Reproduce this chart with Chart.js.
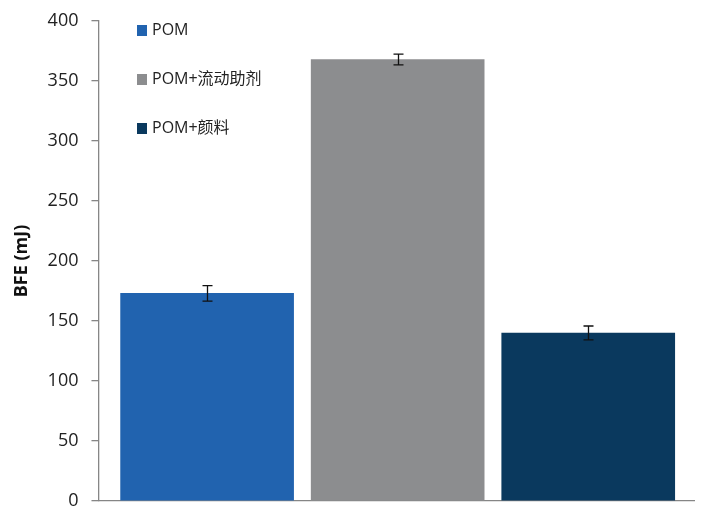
<!DOCTYPE html>
<html>
<head>
<meta charset="utf-8">
<script src="https://cdn.jsdelivr.net/npm/chart.js@4"></script>
<style>
  html, body { margin: 0; padding: 0; background: #fff; overflow: hidden; }
</style>
</head>
<body>
<canvas id="bfeChart" width="704" height="522"></canvas>
<script>
const labels = ['POM', 'POM+流动助剂', 'POM+颜料'];
const bfe = [173, 368, 140];
const bfeErr = [6.5, 4.5, 5.8];
const colors = ['#2163AF', '#8C8D8F', '#0A395E'];
const yTicks = [0, 50, 100, 150, 200, 250, 300, 350, 400];

const font = '"Open Sans", "Noto Sans CJK SC", sans-serif';

// error bars + legend drawn on top of the bars
const extras = {
    id: 'extras',
    afterDatasetsDraw(chart) {
        const ctx = chart.ctx;
        const y = chart.scales.y;
        ctx.save();
        ctx.strokeStyle = '#111';
        ctx.lineWidth = 1.3;
        chart.data.datasets.forEach((ds, i) => {
            const bar = chart.getDatasetMeta(i).data[0];
            const x = Math.round(bar.x) + 0.5;
            const hi = y.getPixelForValue(bfe[i] + bfeErr[i]);
            const lo = y.getPixelForValue(bfe[i] - bfeErr[i]);
            ctx.beginPath();
            ctx.moveTo(x, hi); ctx.lineTo(x, lo);
            ctx.moveTo(x - 5, hi); ctx.lineTo(x + 5, hi);
            ctx.moveTo(x - 5, lo); ctx.lineTo(x + 5, lo);
            ctx.stroke();
        });
        // legend
        ctx.font = '16px ' + font;
        ctx.textBaseline = 'middle';
        labels.forEach((lab, i) => {
            const ly = 30 + i * 49;
            ctx.fillStyle = colors[i];
            ctx.fillRect(137, ly - 5, 10, 11);
            ctx.fillStyle = '#222';
            ctx.fillText(lab, 152, ly);
        });
        ctx.restore();
    }
};

new Chart(document.getElementById('bfeChart'), {
    type: 'bar',
    data: {
        datasets: labels.map((lab, i) => ({
            label: lab,
            data: [{ x: i, y: bfe[i] }],
            backgroundColor: colors[i],
            barThickness: 173,
            grouped: false
        }))
    },
    options: {
        responsive: false,
        animation: false,
        layout: { padding: { top: 0, right: 10, left: 7, bottom: 0 } },
        plugins: {
            legend: { display: false },
            tooltip: { enabled: false }
        },
        scales: {
            x: {
                type: 'linear',
                min: -0.57,
                max: 2.555,
                offset: false,
                ticks: { display: false },
                grid: { display: false, drawTicks: false },
                border: { display: true, color: '#868686', width: 1.3 },
                afterFit: s => { s.height = 0; }
            },
            y: {
                min: 0,
                max: 400,
                afterBuildTicks: s => { s.ticks = yTicks.map(v => ({ value: v })); },
                ticks: {
                    font: { family: font, size: 18, lineHeight: 0.9 },
                    color: '#222',
                    padding: 13
                },
                grid: { drawOnChartArea: false, tickLength: 7, color: '#868686', lineWidth: 1.3 },
                border: { display: true, color: '#868686', width: 1.3 },
                title: {
                    display: true,
                    text: 'BFE (mJ)',
                    font: { family: font, size: 18, weight: 'bold' },
                    color: '#111',
                    padding: { bottom: 2 }
                }
            }
        }
    },
    plugins: [extras]
});
</script>
</body>
</html>
